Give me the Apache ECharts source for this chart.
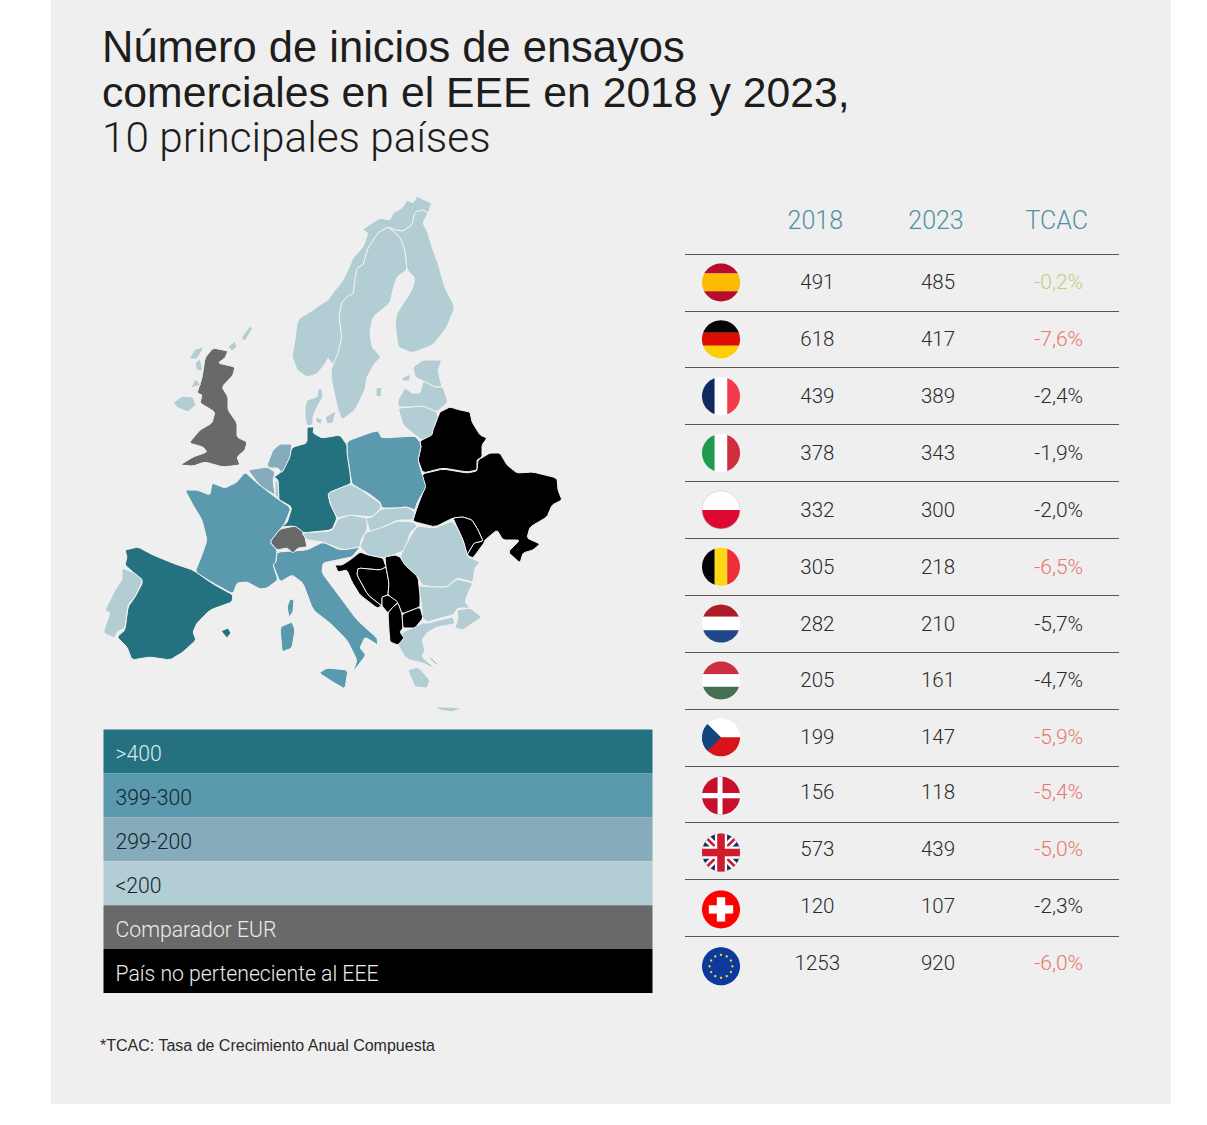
<!DOCTYPE html>
<html>
<head>
<meta charset="utf-8">
<title>Ensayos comerciales en el EEE</title>
<script src="https://cdn.jsdelivr.net/npm/echarts@6/dist/echarts.min.js"></script>
<style>
html, body { margin: 0; background: #fff; }
#chart { width: 1207px; height: 1125px; }
</style>
</head>
<body>
<div id="chart"></div>
<script>
// tabla
var countries = ['España', 'Alemania', 'Francia', 'Italia', 'Polonia', 'Bélgica', 'Países Bajos', 'Hungría', 'Chequia', 'Dinamarca', 'Reino Unido', 'Suiza', 'UE'];
var columns = ['2018', '2023', 'TCAC'];
var values2018 = [491, 618, 439, 378, 332, 305, 282, 205, 199, 156, 573, 120, 1253];
var values2023 = [485, 417, 389, 343, 300, 218, 210, 161, 147, 118, 439, 107, 920];
var tcac = [-0.2, -7.6, -2.4, -1.9, -2.0, -6.5, -5.7, -4.7, -5.9, -5.4, -5.0, -2.3, -6.0];
var tcacTones = ['#c6cc7c', '#e8766c', '#2b2b2b', '#2b2b2b', '#2b2b2b', '#e8766c', '#2b2b2b', '#2b2b2b', '#e8766c', '#e8766c', '#e8766c', '#2b2b2b', '#e8766c'];

// leyenda
var legendLabels = ['>400', '399-300', '299-200', '<200', 'Comparador EUR', 'País no perteneciente al EEE'];
var legendColors = ['#24727f', '#5b9aae', '#86abbb', '#b3cdd4', '#696969', '#000000'];
var legendText = ['#dfeaec', '#10262e', '#10262e', '#10262e', '#ececec', '#ececec'];

// qué país va en cada tramo de la leyenda
var mapGroups = [
	['Spain', 'Germany'],
	['France', 'Italy', 'Poland'],
	['Belgium', 'Netherlands'],
	['Portugal', 'Ireland', 'Norway', 'Sweden', 'Finland', 'Estonia', 'Latvia', 'Lithuania', 'Denmark', 'Luxembourg', 'Czechia', 'Slovakia', 'Austria', 'Hungary', 'Romania', 'Bulgaria', 'Greece', 'Turkey', 'Islands'],
	['United Kingdom', 'Switzerland'],
	['Belarus', 'Ukraine', 'Moldova', 'Croatia', 'Bosnia', 'Serbia', 'Montenegro', 'Albania', 'Macedonia']
];

// contornos del mapa, en unidades del propio mapa
var outlines = {
	Norway: ['292,356 297,370 307,377 317,374 325,364 328,358 333,365 338,353 342,337 339,317 342,302 348,296 353,294 355,280 357,268 363,265 368,248 378,233 388,227 395,230 403,231 412,225 415,212 423,210 428,213 432,203 420,198 417,196 413,203 407,200 402,208 393,213 390,220 380,218 372,223 362,230 368,233 363,247 353,258 348,270 343,280 333,293 328,300 320,305 310,312 300,318 297,323 295,340'],
	Sweden: ['333,365 338,353 342,337 339,317 342,302 348,296 353,294 355,280 357,268 363,265 368,248 378,233 388,227 400,237 405,250 407,270 397,277 393,290 390,303 373,317 370,333 372,347 381,357 375,363 367,377 365,390 355,410 342,420 338,410 332,383 331,370'],
	Finland: ['388,227 400,237 405,250 407,270 415,278 412,290 397,313 395,323 398,347 412,353 433,345 447,327 455,307 445,288 438,263 432,247 428,233 423,223 428,213 423,210 415,212 412,225 403,231 395,230'],
	Estonia: ['413,367 423,360 442,360 438,370 442,387 435,387 423,381 415,377'],
	Latvia: ['398,400 405,388 412,393 420,393 423,381 435,387 443,387 448,402 437,412 423,406 413,407 398,407'],
	Lithuania: ['398,408 413,407 423,406 437,412 438,417 433,430 432,435 422,440 415,435 403,425'],
	Belarus: ['438,417 440,412 450,407 460,410 470,412 472,422 480,435 487,438 482,445 482,457 477,460 477,470 467,472 443,468 423,473 418,460 421,447 420,442 422,440 432,435 433,430'],
	Ukraine: ['422,474 443,469 467,473 477,471 478,460 490,453 500,453 507,465 517,473 533,472 557,478 558,490 562,500 552,505 547,517 530,527 527,538 540,544 533,550 523,553 520,563 508,552 520,540 503,540 497,530 485,540 484,543 473,558 467,555 474,543 483,541 478,530 472,520 463,517 453,518 435,527 415,522 413,520 417,508 425,487'],
	Moldova: ['453,518 463,517 472,520 478,530 483,541 474,543 467,555 463,540 457,527'],
	Poland: ['350,473 347,453 347,443 350,440 372,432 378,431 382,438 415,436 420,442 421,447 418,460 422,474 426,487 417,503 415,510 407,507 397,508 382,508 380,502 368,493 362,490 352,484'],
	Germany: ['307,427 314,427 313,433 322,438 340,435 347,445 347,453 350,473 351,484 328,493 330,503 337,518 332,530 303,533 293,526 280,527 287,523 292,507 278,499 278,480 274,477 280,473 290,457 288,455 293,447 307,443'],
	Netherlands: ['267,465 273,450 280,444 292,444 290,457 282,473 278,468 270,468'],
	Belgium: ['248,470 267,467 275,472 273,480 275,495 263,488 257,482'],
	Luxembourg: ['275,482 278,480 279,499 275,495'],
	France: [
		'185,490 197,490 210,495 212,483 225,488 237,482 245,472 257,483 275,497 291,508 285,523 282,527 270,542 277,550 276,562 273,565 278,580 267,588 260,589 247,582 237,583 233,594 213,583 195,572 202,555 207,540 202,520 193,505',
		'290,599 294,600 293,612 289,617 287,607'
	],
	Spain: [
		'125,550 138,547 153,555 175,564 193,570 213,584 233,595 232,602 210,610 197,623 193,632 196,640 183,652 170,660 150,657 132,660 127,647 117,637 125,630 128,607 135,597 143,582 133,572 125,565 127,557',
		'221,631 228,628 231,633 227,638'
	],
	Portugal: ['122,568 133,572 143,580 135,597 128,605 125,628 117,632 115,638 103,633 110,613 105,610 115,590 122,580'],
	Italy: [
		'277,552 307,550 323,542 340,550 360,547 352,557 337,560 323,563 322,573 337,593 357,620 377,638 378,645 365,637 360,648 366,655 353,672 357,660 347,640 330,623 313,610 303,583 292,575 280,582 273,565 276,562',
		'319,673 327,668 348,670 345,689 333,682',
		'280,627 292,622 295,630 292,648 282,652'
	],
	Switzerland: ['270,542 280,529 295,526 302,531 305,537 307,547 298,548 293,553 287,548 277,550'],
	Austria: ['302,533 332,531 338,519 350,515 367,518 367,530 361,540 360,547 343,550 323,542 307,540'],
	Czechia: ['328,493 350,484 362,490 368,495 380,503 381,508 372,517 350,515 337,518 330,503'],
	Slovakia: ['381,509 397,508 407,507 415,512 413,520 398,520 383,527 370,532 366,518 372,517'],
	Hungary: ['368,532 383,527 398,521 413,522 417,526 410,533 405,550 393,555 383,558 368,555 360,547 365,533'],
	Romania: ['417,526 435,528 452,521 457,527 463,540 468,557 473,559 480,562 475,568 473,582 457,578 447,587 433,587 422,585 418,577 405,565 400,557 410,537'],
	Bulgaria: ['419,586 433,587 447,587 457,579 473,583 468,593 465,602 470,608 458,608 453,615 440,618 428,622 422,618 422,607 420,595'],
	Greece: [
		'403,632 423,623 428,623 440,620 453,617 455,624 437,627 427,633 422,640 425,650 422,657 437,670 423,663 410,660 405,657 397,643',
		'408,670 418,667 430,680 427,688 415,687 410,675',
		'428,657 432,658 438,664 436,665',
		'435,707 447,707 462,708 452,712 440,710'
	],
	Turkey: ['457,610 470,608 482,617 470,625 463,630 455,628 458,618'],
	Croatia: ['335,565 342,565 350,560 360,552 368,555 383,558 386,567 380,570 358,568 357,575 368,595 382,606 377,608 360,595 352,582 347,570 338,572'],
	Bosnia: ['358,568 380,570 386,567 389,583 388,595 382,597 382,606 368,595 357,575'],
	Serbia: ['385,557 395,555 400,557 405,565 418,577 420,595 420,607 402,614 398,603 388,595 389,583 386,567'],
	Montenegro: ['382,597 388,595 398,602 393,607 388,613 382,606'],
	Albania: ['388,613 393,607 398,603 402,614 403,628 400,632 404,638 398,645 390,642 389,630'],
	Macedonia: ['402,614 420,607 423,618 415,628 403,628'],
	Denmark: [
		'305,407 307,400 317,397 318,389 322,389 323,397 317,407 313,417 313,425 307,426 305,417',
		'325,417 336,411 333,423 327,424',
		'316,417 322,419 321,424 316,422'
	],
	'United Kingdom': ['213,348 228,351 225,358 218,363 235,367 233,375 222,387 228,397 228,410 237,423 237,437 247,442 245,450 237,457 240,465 223,467 205,462 193,466 180,465 193,457 207,452 203,447 189,443 200,430 212,423 215,412 200,403 202,395 197,393 202,378 205,358'],
	Ireland: ['173,403 182,396 193,397 196,405 188,412 178,408'],
	Islands: [
		'241,338 250,326 253,328 245,341',
		'228,347 235,341 237,347 232,351',
		'189,359 195,349 204,347 197,359',
		'195,363 200,359 203,370 197,371',
		'191,388 195,379 201,385',
		'376,388 382,387 381,397 376,396',
		'402,378 411,374 409,381 402,381'
	]
};

var FONT = '"Liberation Sans", sans-serif';
var FONT_LIGHT = 'Roboto, "Liberation Sans", sans-serif';

// suaviza un poco las esquinas del contorno
function cutCorners(pts) {
	var out = [];
	pts.forEach(function(p, i) {
		var q = pts[(i + 1) % pts.length];
		out.push([p[0] * 0.88 + q[0] * 0.12, p[1] * 0.88 + q[1] * 0.12]);
		out.push([p[0] * 0.12 + q[0] * 0.88, p[1] * 0.12 + q[1] * 0.88]);
	});
	return out;
}

function toFeature(name) {
	var rings = outlines[name].map(function(ring) {
		var pts = ring.split(' ').map(function(p) {
			var xy = p.split(',');
			return [+xy[0], -xy[1]];
		});
		pts = cutCorners(pts);
		pts.push(pts[0]);
		return [pts];
	});
	return {type: 'Feature', properties: {name: name}, geometry: {type: 'MultiPolygon', coordinates: rings}};
}
echarts.registerMap('europa', {type: 'FeatureCollection', features: Object.keys(outlines).map(toFeature)});

var mapData = [];
mapGroups.forEach(function(group, i) {
	group.forEach(function(name) {
		mapData.push({name: name, value: i, itemStyle: {areaColor: legendColors[i]}});
	});
});

// banderas: formas en un círculo unidad, recortadas luego al círculo
function hb(a, b, c) { return {fill: c, pts: [[-1, a], [1, a], [1, b], [-1, b]]}; }
function vb(a, b, c) { return {fill: c, pts: [[a, -1], [b, -1], [b, 1], [a, 1]]}; }
function diag(x1, y1, x2, y2, w, c) {
	var dx = x2 - x1, dy = y2 - y1, l = Math.sqrt(dx * dx + dy * dy);
	var nx = -dy / l * w, ny = dx / l * w;
	return {fill: c, pts: [[x1 + nx, y1 + ny], [x2 + nx, y2 + ny], [x2 - nx, y2 - ny], [x1 - nx, y1 - ny]]};
}
var flags = {
	'España': [hb(-1, -0.47, '#b80c2f'), hb(-0.47, 0.47, '#fdbb00'), hb(0.47, 1, '#b80c2f')],
	'Alemania': [hb(-1, -0.34, '#050505'), hb(-0.34, 0.34, '#dd0b00'), hb(0.34, 1, '#ffce00')],
	'Francia': [vb(-1, -0.33, '#12295f'), vb(-0.33, 0.33, '#ffffff'), vb(0.33, 1, '#f23b4c')],
	'Italia': [vb(-1, -0.33, '#1f9a4f'), vb(-0.33, 0.33, '#ffffff'), vb(0.33, 1, '#cf2e3e')],
	'Polonia': [hb(-1, 0, '#ffffff'), hb(0, 1, '#dc0a33')],
	'Bélgica': [vb(-1, -0.33, '#050505'), vb(-0.33, 0.33, '#fdd915'), vb(0.33, 1, '#ee2f38')],
	'Países Bajos': [hb(-1, -0.36, '#ae1c28'), hb(-0.36, 0.35, '#ffffff'), hb(0.35, 1, '#21468b')],
	'Hungría': [hb(-1, -0.33, '#cd2e40'), hb(-0.33, 0.33, '#ffffff'), hb(0.33, 1, '#477050')],
	'Chequia': [hb(-1, 0, '#ffffff'), hb(0, 1, '#d7141a'), {fill: '#11457e', pts: [[-1, -1], [0, 0], [-1, 1]]}],
	'Dinamarca': [hb(-1, 1, '#c8102e'), vb(-0.18, 0.08, '#ffffff'), hb(-0.14, 0.14, '#ffffff')],
	'Reino Unido': [
		hb(-1, 1, '#1b2a66'),
		diag(-1, -1, 1, 1, 0.2, '#ffffff'), diag(-1, 1, 1, -1, 0.2, '#ffffff'),
		diag(-1, -1, 1, 1, 0.07, '#cf1b2b'), diag(-1, 1, 1, -1, 0.07, '#cf1b2b'),
		vb(-0.32, 0.32, '#ffffff'), hb(-0.32, 0.32, '#ffffff'),
		vb(-0.2, 0.2, '#cf1b2b'), hb(-0.2, 0.2, '#cf1b2b')
	],
	'Suiza': [hb(-1, 1, '#ff0000'), {fill: '#ffffff', pts: [[-0.22, -0.64], [0.22, -0.64], [0.22, 0.64], [-0.22, 0.64]]}, {fill: '#ffffff', pts: [[-0.64, -0.22], [0.64, -0.22], [0.64, 0.22], [-0.64, 0.22]]}],
	'UE': [hb(-1, 1, '#0b3a9c')]
};

// círculo unidad como polígono
var unitCircle = [];
for (var a = 0; a < 64; a++) {
	unitCircle.push([Math.cos(a / 64 * 2 * Math.PI), Math.sin(a / 64 * 2 * Math.PI)]);
}

function clipToCircle(pts) {
	var out = pts;
	unitCircle.forEach(function(p, i) {
		var q = unitCircle[(i + 1) % unitCircle.length];
		var side = function(s) { return (q[0] - p[0]) * (s[1] - p[1]) - (q[1] - p[1]) * (s[0] - p[0]); };
		var input = out;
		out = [];
		input.forEach(function(s, j) {
			var e = input[(j + 1) % input.length];
			var ds = side(s), de = side(e);
			if (ds >= 0) out.push(s);
			if ((ds >= 0) !== (de >= 0)) {
				var t = ds / (ds - de);
				out.push([s[0] + (e[0] - s[0]) * t, s[1] + (e[1] - s[1]) * t]);
			}
		});
	});
	return out;
}

// las últimas filas del original van algo descuadradas: texto más arriba, bandera más abajo
var lateRow = 9;

function renderFlag(params, api) {
	var c = api.coord([api.value(0), api.value(1)]);
	if (params.dataIndex >= lateRow) c[1] += 1.5;
	var r = 19;
	var name = countries[params.dataIndex];
	var children = flags[name].map(function(part) {
		return {
			type: 'polygon',
			shape: {points: clipToCircle(part.pts).map(function(p) { return [c[0] + p[0] * r, c[1] + p[1] * r]; })},
			style: {fill: part.fill}
		};
	});
	if (name === 'UE') {
		for (var s = 0; s < 12; s++) {
			var ang = s / 12 * 2 * Math.PI;
			children.push({
				type: 'circle',
				shape: {cx: c[0] + Math.cos(ang) * r * 0.6, cy: c[1] + Math.sin(ang) * r * 0.6, r: 1.2},
				style: {fill: '#f5d327'}
			});
		}
	}
	if (name === 'Polonia') {
		children.push({type: 'circle', shape: {cx: c[0], cy: c[1], r: r}, style: {fill: 'none', stroke: '#c9c9c9', lineWidth: 0.6}});
	}
	return {type: 'group', children: children};
}

function tableCells(col, values, format, tones) {
	return values.map(function(v, i) {
		return {
			value: [col, i, v],
			label: {
				formatter: format ? format(v) : String(v),
				color: tones ? tones[i] : '#2b2b2b',
				offset: [0, i >= lateRow ? -2 : 0]
			}
		};
	});
}

function fmtPct(v) { return v.toFixed(1).replace('.', ',') + '%'; }

function tableColumn(col, values, format, tones, size) {
	return {
		type: 'scatter',
		xAxisIndex: 0,
		yAxisIndex: 0,
		symbolSize: 1,
		silent: true,
		itemStyle: {color: 'transparent', opacity: 1},
		label: {show: true, position: 'inside', fontFamily: FONT_LIGHT, fontWeight: 300, fontSize: size},
		data: tableCells(col, values, format, tones)
	};
}

var ruleLine = {show: true, showMaxLine: false, lineStyle: {color: '#555555', width: 1}};

var option = {
	animation: false,
	graphic: [{
		type: 'rect',
		silent: true,
		z: -10,
		shape: {x: 51, y: 0, width: 1120, height: 1104},
		style: {fill: '#efefef'}
	}],
	title: [{
		text: 'Número de inicios de ensayos',
		left: 97,
		top: 19,
		textStyle: {fontFamily: FONT, fontWeight: 'normal', fontSize: 43.5, lineHeight: 45, color: '#1d1d1d'}
	}, {
		text: 'comerciales en el EEE en 2018 y 2023,',
		left: 97,
		top: 64,
		textStyle: {fontFamily: FONT, fontWeight: 'normal', fontSize: 42.7, lineHeight: 45, color: '#1d1d1d'}
	}, {
		text: '10 principales países',
		left: 97,
		top: 110,
		textStyle: {fontFamily: FONT_LIGHT, fontWeight: 300, fontSize: 42.3, lineHeight: 45, color: '#1d1d1d'}
	}, {
		text: '*TCAC: Tasa de Crecimiento Anual Compuesta',
		left: 95,
		top: 1032,
		textStyle: {fontFamily: FONT, fontWeight: 'normal', fontSize: 16, color: '#2a2a2a'}
	}],
	grid: [
		{left: 757, width: 362, top: 254, height: 739.2},
		{left: 685, width: 72, top: 254, height: 739.2},
		{left: 103.5, width: 549, top: 729.5, height: 263.5}
	],
	xAxis: [
		{
			gridIndex: 0,
			type: 'category',
			position: 'top',
			data: columns,
			axisLine: {show: false},
			axisTick: {show: false},
			axisLabel: {margin: 21, padding: [0, 4, 0, 0], fontFamily: FONT_LIGHT, fontWeight: 300, fontSize: 25, color: '#4f93a3'}
		},
		{gridIndex: 1, type: 'category', data: [''], show: false},
		{gridIndex: 2, type: 'value', min: 0, max: 1, show: false}
	],
	yAxis: [
		{gridIndex: 0, type: 'category', inverse: true, data: countries, axisLine: {show: false}, axisTick: {show: false}, axisLabel: {show: false}, splitLine: ruleLine},
		{gridIndex: 1, type: 'category', inverse: true, data: countries, axisLine: {show: false}, axisTick: {show: false}, axisLabel: {show: false}, splitLine: ruleLine},
		{gridIndex: 2, type: 'category', inverse: true, data: legendLabels, show: false}
	],
	series: [
		{
			type: 'map',
			map: 'europa',
			aspectScale: 1,
			boundingCoords: [[100, -195], [565, -715]],
			left: 100,
			top: 195,
			width: 465,
			height: 520,
			roam: false,
			silent: true,
			label: {show: false},
			emphasis: {disabled: true},
			select: {disabled: true},
			itemStyle: {borderColor: '#f1f1f1', borderWidth: 1},
			data: mapData
		},
		tableColumn(0, values2018, null, null, 20.5),
		tableColumn(1, values2023, null, null, 20.5),
		tableColumn(2, tcac, fmtPct, tcacTones, 21),
		{
			type: 'custom',
			xAxisIndex: 1,
			yAxisIndex: 1,
			silent: true,
			renderItem: renderFlag,
			data: countries.map(function(c, i) { return [0, i]; })
		},
		{
			type: 'bar',
			xAxisIndex: 2,
			yAxisIndex: 2,
			barWidth: '100%',
			silent: true,
			data: legendLabels.map(function(l, i) {
				return {
					value: 1,
					itemStyle: {color: legendColors[i]},
					label: {color: legendText[i]}
				};
			}),
			label: {show: true, position: 'insideLeft', distance: 12, offset: [0, 2], fontFamily: FONT_LIGHT, fontWeight: 300, fontSize: 21.2, formatter: '{b}'}
		}
	]
};

var chart = echarts.init(document.getElementById('chart'), null, {renderer: 'svg'});
chart.setOption(option);
</script>
</body>
</html>
